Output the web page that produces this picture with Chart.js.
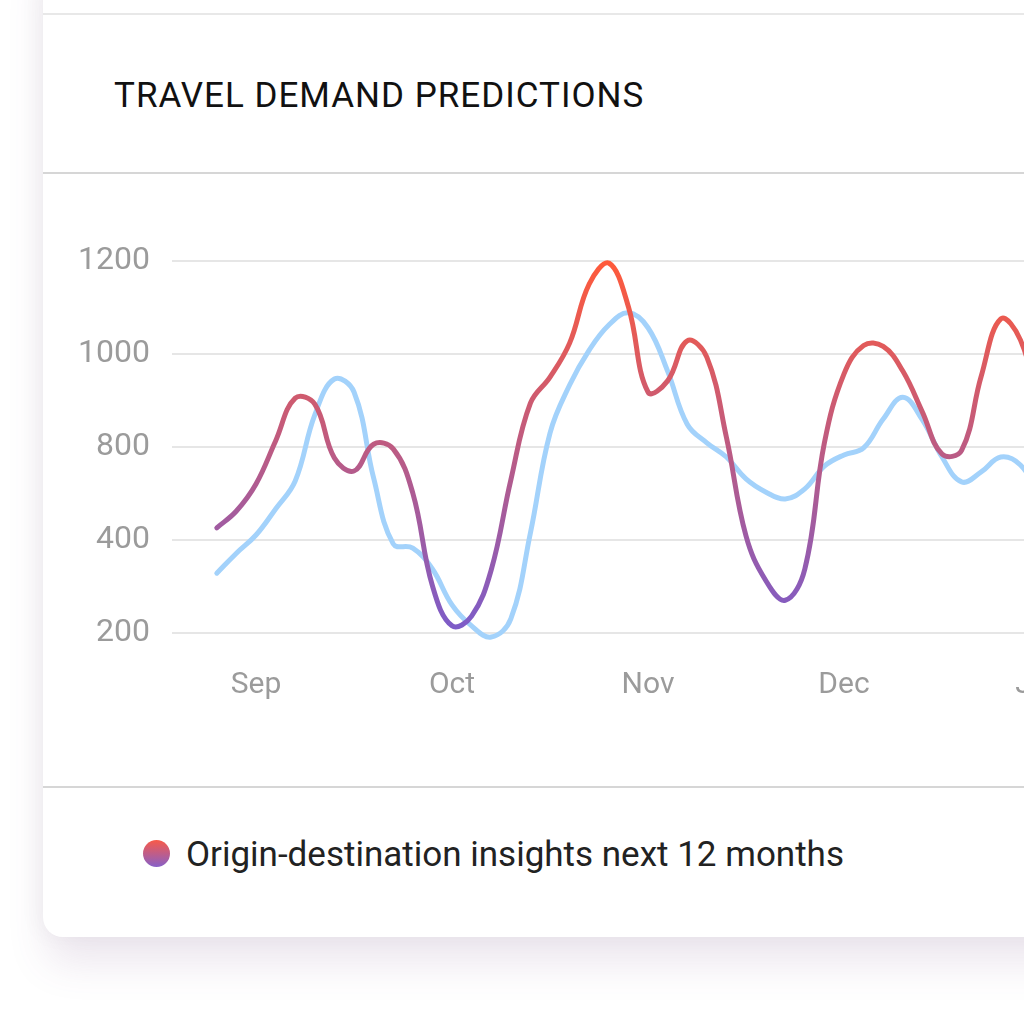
<!DOCTYPE html>
<html>
<head>
<meta charset="utf-8">
<script src="https://cdn.jsdelivr.net/npm/chart.js@4.4.1/dist/chart.umd.min.js"></script>
<style>
	html, body {
		margin: 0;
		width: 1024px;
		height: 1024px;
		overflow: hidden;
		background: #fff;
		font-family: Roboto, 'Noto Sans', sans-serif;
	}
	.card {
		position: absolute;
		left: 43px;
		top: -60px;
		width: 1400px;
		height: 997px;
		background: #fff;
		border-radius: 20px;
		box-shadow: 0 30px 40px -4px rgba(110, 60, 120, 0.13), -6px 0 22px rgba(0, 0, 0, 0.035);
	}
	.rule {
		position: absolute;
		left: 43px;
		width: 1400px;
		height: 2px;
		background: #d6d6d6;
	}
	.title {
		position: absolute;
		left: 114px;
		top: 77.5px;
		font-size: 35px;
		line-height: 35px;
		letter-spacing: 1px;
		color: #111;
		white-space: nowrap;
	}
	.chart-box {
		position: absolute;
		left: 43px;
		top: 174px;
		width: 1157px;
		height: 612px;
	}
	.legend-dot {
		position: absolute;
		left: 143px;
		top: 839.5px;
		width: 27px;
		height: 27px;
		border-radius: 50%;
		background: linear-gradient(#f85a48, #8760c8);
	}
	.legend-text {
		position: absolute;
		left: 186px;
		top: 836.5px;
		font-size: 35px;
		line-height: 35px;
		color: #222;
		white-space: nowrap;
	}
</style>
</head>
<body>
<div class="card"></div>
<div class="rule" style="top: 13px; background: #e8e8e8;"></div>
<div class="title">TRAVEL DEMAND PREDICTIONS</div>
<div class="rule" style="top: 172px;"></div>
<div class="chart-box"><canvas id="demand"></canvas></div>
<div class="rule" style="top: 786px;"></div>
<div class="legend-dot"></div>
<div class="legend-text" id="legendText"></div>

<script>
const months = ['Sep', 'Oct', 'Nov', 'Dec', 'Jan']
const yTicks = [200, 400, 800, 1000, 1200]

// position in months, Sep = 0
const xPoints = [
	-0.2, -0.1, 0, 0.1, 0.2, 0.3, 0.4, 0.5, 0.6, 0.7,
	0.8, 0.9, 1, 1.1, 1.2, 1.3, 1.4, 1.5, 1.6, 1.7,
	1.8, 1.9, 2, 2.1, 2.2, 2.3, 2.4, 2.5, 2.6, 2.7,
	2.8, 2.9, 3, 3.1, 3.2, 3.3, 3.4, 3.5, 3.6, 3.7,
	3.8, 3.9, 4
]

const insights = [
	453, 525, 641, 813, 905, 892, 753, 697, 806, 792,
	602, 302, 216, 237, 336, 658, 894, 950, 1023, 1150,
	1195, 1101, 918, 942, 1028, 993, 821, 418, 314, 271,
	338, 809, 957, 1018, 1016, 963, 875, 770, 785, 952,
	1075, 1030, 880
]

const baseline = [
	329, 372, 422, 534, 654, 869, 946, 918, 667, 392,
	383, 338, 261, 216, 192, 231, 431, 830, 933, 1008,
	1062, 1088, 1056, 963, 849, 809, 757, 663, 607, 577,
	620, 718, 766, 796, 860, 907, 858, 757, 650, 693,
	757, 723, 594
]

// y axis with evenly spaced ticks (200, 400, 800, ...), linear between them
class StepScale extends Chart.LinearScale {
	getPixelForValue(value) {
		if (value === null || value === undefined) return NaN
		let i = 0
		while (i < yTicks.length - 2 && value > yTicks[i + 1]) i++
		const f = i + (value - yTicks[i]) / (yTicks[i + 1] - yTicks[i])
		return this.getPixelForDecimal(f / (yTicks.length - 1))
	}
	getValueForPixel(pixel) {
		const f = this.getDecimalForPixel(pixel) * (yTicks.length - 1)
		const i = Math.min(Math.max(Math.floor(f), 0), yTicks.length - 2)
		return yTicks[i] + (f - i) * (yTicks[i + 1] - yTicks[i])
	}
}
StepScale.id = 'step'
StepScale.defaults = Chart.LinearScale.defaults
Chart.register(StepScale)

Chart.defaults.font.family = 'Roboto'

let redGradient = null
function insightColor(context) {
	const { ctx, chartArea } = context.chart
	if (!chartArea) return '#c05c80'
	if (!redGradient) {
		redGradient = ctx.createLinearGradient(0, chartArea.top, 0, chartArea.bottom)
		redGradient.addColorStop(0, '#ff5a3a')
		redGradient.addColorStop(1, '#7b5cca')
	}
	return redGradient
}

const datasets = [
	{
		label: 'Origin-destination insights next 12 months',
		data: xPoints.map((x, i) => ({ x, y: insights[i] })),
		borderColor: insightColor,
	},
	{
		label: 'Baseline',
		data: xPoints.map((x, i) => ({ x, y: baseline[i] })),
		borderColor: '#a3d2fb',
	},
]

document.getElementById('legendText').textContent = datasets[0].label

new Chart(document.getElementById('demand'), {
	type: 'line',
	data: { datasets },
	options: {
		responsive: true,
		maintainAspectRatio: false,
		animation: false,
		layout: {
			padding: { top: 86.7, right: 0, bottom: 0, left: 0 },
		},
		plugins: {
			legend: { display: false },
			tooltip: { enabled: false },
		},
		elements: {
			point: { radius: 0 },
			line: {
				borderWidth: 5,
				tension: 0.4,
				borderCapStyle: 'round',
				borderJoinStyle: 'round',
				fill: false,
			},
		},
		datasets: {
			line: { clip: false },
		},
		scales: {
			x: {
				type: 'linear',
				min: -0.4286,
				max: 4.8163,
				grid: { display: false },
				border: { display: false },
				afterBuildTicks: (scale) => {
					scale.ticks = months.map((m, i) => ({ value: i }))
				},
				afterFit: (scale) => {
					scale.height = 152.7
				},
				ticks: {
					callback: (value) => months[value],
					color: '#9b9b9b',
					font: { size: 30 },
					padding: 25.7,
					maxRotation: 0,
					autoSkip: false,
				},
			},
			y: {
				type: 'step',
				min: 200,
				max: 1200,
				afterBuildTicks: (scale) => {
					scale.ticks = yTicks.map((v) => ({ value: v }))
				},
				afterFit: (scale) => {
					scale.width = 129
				},
				grid: {
					color: '#e6e6e6',
					lineWidth: 2,
					drawTicks: false,
				},
				border: { display: false },
				ticks: {
					callback: (value) => String(value),
					color: '#9b9b9b',
					font: { size: 32 },
					padding: 22,
				},
			},
		},
	},
})
</script>
</body>
</html>
